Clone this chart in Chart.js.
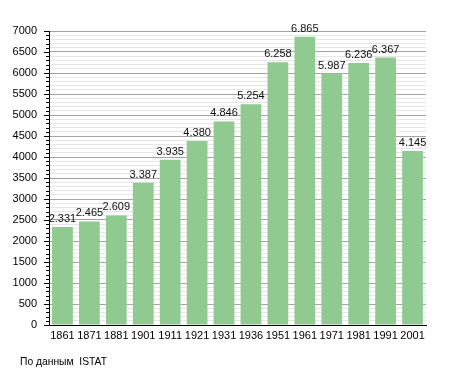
<!DOCTYPE html>
<html>
<head>
<meta charset="utf-8">
<script src="https://cdn.jsdelivr.net/npm/chart.js@4/dist/chart.umd.min.js"></script>
<style>
html,body{margin:0;padding:0;background:#fff;}
#wrap{position:relative;width:455px;height:373px;}
#src{position:absolute;left:20px;top:356px;font:10.3px "Liberation Sans",Arial,sans-serif;color:#000;white-space:pre;}
</style>
</head>
<body>
<div id="wrap">
<canvas id="c" width="455" height="373"></canvas>
<div id="src">По данным  ISTAT</div>
</div>
<script>
const years = ["1861","1871","1881","1901","1911","1921","1931","1936","1951","1961","1971","1981","1991","2001"];
const population = [2331,2465,2609,3387,3935,4380,4846,5254,6258,6865,5987,6236,6367,4145];
const yMin = 0, yMax = 7000, yMajorStep = 500, yMinorStep = 100;

const FONT = '"Liberation Sans", Arial, sans-serif';
const fmt = v => String(v).replace(/\B(?=(\d{3})+(?!\d))/g, '.');

const valueLabels = {
  id: 'valueLabels',
  afterDatasetsDraw(chart) {
    const ctx = chart.ctx;
    const meta = chart.getDatasetMeta(0);
    ctx.save();
    ctx.font = '11px ' + FONT;
    ctx.fillStyle = '#111';
    ctx.textAlign = 'center';
    ctx.textBaseline = 'alphabetic';
    meta.data.forEach((bar, i) => {
      ctx.fillText(fmt(population[i]), bar.x, bar.y - 5);
    });
    ctx.restore();
  }
};

const yTicks = {
  id: 'yTicks',
  afterDraw(chart) {
    const ctx = chart.ctx;
    const y = chart.scales.y;
    const x0 = chart.chartArea.left;
    ctx.save();
    ctx.strokeStyle = '#000';
    ctx.lineWidth = 1;
    for (let v = yMin; v <= yMax; v += yMinorStep) {
      const py = Math.round(y.getPixelForValue(v)) + 0.5;
      const len = (v % yMajorStep === 0) ? 5 : 3;
      ctx.beginPath();
      ctx.moveTo(x0 - len, py);
      ctx.lineTo(x0, py);
      ctx.stroke();
    }
    ctx.restore();
  }
};

new Chart(document.getElementById('c'), {
  type: 'bar',
  data: {
    labels: years,
    datasets: [{
      data: population,
      backgroundColor: '#90ca90',
      borderWidth: 0,
      barPercentage: 0.77,
      categoryPercentage: 1.0
    }]
  },
  options: {
    responsive: false,
    animation: false,
    layout: { padding: { top: 31, right: 29, bottom: 29, left: 0 } },
    plugins: { legend: { display: false }, tooltip: { enabled: false }, title: { display: false } },
    scales: {
      x: {
        grid: { display: false, drawTicks: false },
        border: { display: true, color: '#000', width: 1 },
        ticks: { color: '#000', font: { family: FONT, size: 11 }, padding: 4, maxRotation: 0, autoSkip: false },
        afterFit(s) { s.height = 19; s.paddingLeft = 0; s.paddingRight = 0; }
      },
      y: {
        min: yMin, max: yMax,
        grid: {
          drawTicks: false,
          color: c => (c.tick && c.tick.value % yMajorStep === 0) ? '#a4a4a4' : '#e6e6e6',
          lineWidth: 1
        },
        border: { display: true, color: '#000', width: 1 },
        ticks: {
          stepSize: yMinorStep,
          autoSkip: false,
          color: '#000',
          font: { family: FONT, size: 11 },
          padding: 12,
          callback: v => (v % yMajorStep === 0) ? String(v) : ''
        },
        afterFit(s) { s.width = 49; s.paddingTop = 0; s.paddingBottom = 0; }
      }
    }
  },
  plugins: [valueLabels, yTicks]
});
</script>
</body>
</html>
